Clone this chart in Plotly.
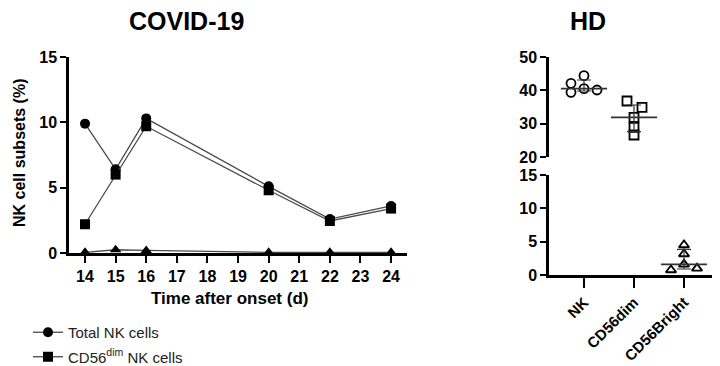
import plotly.graph_objects as go

# ---------------- data ----------------
days = [14, 15, 16, 20, 22, 24]
total_nk = [9.9, 6.4, 10.3, 5.1, 2.6, 3.6]
cd56dim_nk = [2.2, 6.0, 9.7, 4.8, 2.45, 3.4]
cd56bright_nk = [0.05, 0.25, 0.2, 0.05, 0.05, 0.05]
x_ticks = list(range(14, 25))

hd_categories = ["NK", "CD56dim", "CD56Bright"]
hd_nk = [44.4, 42.1, 39.4, 40.5, 40.1]
hd_nk_jitter = [0.0, -0.26, -0.26, 0.0, 0.26]
hd_dim = [36.8, 34.9, 31.9, 28.9, 26.6]
hd_dim_jitter = [-0.14, 0.16, 0.0, 0.0, 0.0]
hd_bright = [4.5, 3.15, 1.6, 0.75, 1.0]
hd_bright_jitter = [0.0, 0.0, 0.0, -0.26, 0.26]
hd_median = [40.5, 31.9, 1.6]
hd_q3 = [43.1, 35.6, 3.85]
hd_q1 = [39.8, 27.6, 0.9]

OFF = 8  # page body margin
W, H = 720 - OFF, 366 - OFF
FONT = "Liberation Sans"
BLACK = "#000000"
LINE = "#4a4a4a"


def px_x(p):
    return (p - OFF) / W


def px_y(p):
    return (H - (p - OFF)) / H


fig = go.Figure()

# ---------------- COVID-19 panel ----------------
fig.add_trace(go.Scatter(
    x=days, y=total_nk, mode="lines+markers", name="Total NK cells",
    line=dict(color=LINE, width=1.3), marker=dict(symbol="circle", size=10, color=BLACK),
    cliponaxis=False, legendgroup="a", xaxis="x", yaxis="y"))
fig.add_trace(go.Scatter(
    x=days, y=cd56dim_nk, mode="lines+markers", name="CD56<sup>dim</sup> NK cells",
    line=dict(color=LINE, width=1.3), marker=dict(symbol="square", size=10, color=BLACK),
    cliponaxis=False, legendgroup="b", xaxis="x", yaxis="y"))
fig.add_trace(go.Scatter(
    x=days, y=cd56bright_nk, mode="lines+markers", name="CD56<sup>bright</sup> NK cells",
    line=dict(color=LINE, width=1.3), marker=dict(symbol="triangle-up", size=10, color=BLACK),
    cliponaxis=False, showlegend=False, xaxis="x", yaxis="y"))

# ---------------- HD panel ----------------
def jit(i, offs):
    return [i + o for o in offs]

fig.add_trace(go.Scatter(
    x=jit(0, hd_nk_jitter), y=hd_nk, mode="markers", showlegend=False,
    marker=dict(symbol="circle-open", size=9, color=BLACK, line=dict(width=1.8)),
    cliponaxis=False, xaxis="x2", yaxis="y2"))
fig.add_trace(go.Scatter(
    x=jit(1, hd_dim_jitter), y=hd_dim, mode="markers", showlegend=False,
    marker=dict(symbol="square-open", size=9, color=BLACK, line=dict(width=1.8)),
    cliponaxis=False, xaxis="x2", yaxis="y2"))
fig.add_trace(go.Scatter(
    x=jit(2, hd_bright_jitter), y=hd_bright, mode="markers", showlegend=False,
    marker=dict(symbol="triangle-up-open", size=9, color=BLACK, line=dict(width=1.8)),
    cliponaxis=False, xaxis="x3", yaxis="y3"))

# median + IQR
for idx, (xa, ya) in enumerate([("x2", "y2"), ("x2", "y2"), ("x3", "y3")]):
    fig.add_trace(go.Scatter(
        x=[idx], y=[hd_median[idx]], mode="markers", showlegend=False,
        marker=dict(symbol="line-ew", size=33, color=LINE, line=dict(width=1.6, color="#333333")),
        error_y=dict(type="data", symmetric=False,
                     array=[hd_q3[idx] - hd_median[idx]],
                     arrayminus=[hd_median[idx] - hd_q1[idx]],
                     width=7, thickness=1.2, color="#333333"),
        cliponaxis=False, xaxis=xa, yaxis=ya))

tickfont = dict(family=FONT, size=16, color=BLACK, weight="bold")
axis_common = dict(showline=True, linecolor=BLACK, linewidth=2.5, ticks="outside",
                   tickcolor=BLACK, tickwidth=2, showgrid=False, zeroline=False,
                   tickfont=tickfont, automargin=False)
cat_axis = dict(axis_common)
cat_axis["tickfont"] = dict(family=FONT, size=15, color=BLACK, weight="bold")

fig.update_layout(
    width=W, height=H, margin=dict(l=0, r=0, t=0, b=0, autoexpand=False),
    paper_bgcolor="white", plot_bgcolor="white",
    xaxis=dict(domain=[px_x(69), px_x(407)], range=[13.477, 24.52],
               tickvals=x_ticks, ticklen=7, anchor="y", **axis_common),
    yaxis=dict(domain=[px_y(253), px_y(57)], range=[0, 15], tickvals=[0, 5, 10, 15],
               ticklen=6, anchor="x", **axis_common),
    xaxis2=dict(domain=[px_x(549), px_x(718)], range=[-0.7, 2.68], visible=False,
                anchor="y2", matches="x3"),
    yaxis2=dict(domain=[px_y(157), px_y(57)], range=[20, 50], tickvals=[20, 30, 40, 50],
                ticklen=6, anchor="x2", **axis_common),
    xaxis3=dict(domain=[px_x(549), px_x(718)], range=[-0.7, 2.68], tickvals=[0, 1, 2],
                ticktext=hd_categories, tickangle=-45, ticklen=10, anchor="y3",
                **cat_axis),
    yaxis3=dict(domain=[px_y(275), px_y(175)], range=[0, 15], tickvals=[0, 5, 10, 15],
                ticklen=6, anchor="x3", **axis_common),
    legend=dict(x=px_x(28), y=px_y(316), xanchor="left", yanchor="top",
                font=dict(family=FONT, size=15, color="#222222"),
                tracegroupgap=2, itemwidth=30, bgcolor="rgba(0,0,0,0)"),
    annotations=[
        dict(text="<b>COVID-19</b>", x=px_x(186), y=px_y(21), xref="paper", yref="paper",
             xanchor="center", yanchor="middle", showarrow=False,
             font=dict(family=FONT, size=25, color=BLACK)),
        dict(text="<b>HD</b>", x=px_x(588), y=px_y(21), xref="paper", yref="paper",
             xanchor="center", yanchor="middle", showarrow=False,
             font=dict(family=FONT, size=25, color=BLACK)),
        dict(text="<b>NK cell subsets (%)</b>", x=px_x(19), y=px_y(153), xref="paper",
             yref="paper", showarrow=False, textangle=-90, xanchor="center", yanchor="middle",
             font=dict(family=FONT, size=16, color=BLACK)),
        dict(text="<b>Time after onset (d)</b>", x=px_x(229), y=px_y(298), xref="paper",
             yref="paper", xanchor="center", yanchor="middle", showarrow=False,
             font=dict(family=FONT, size=17, color=BLACK)),
    ],
)

fig.write_html("out.html")
